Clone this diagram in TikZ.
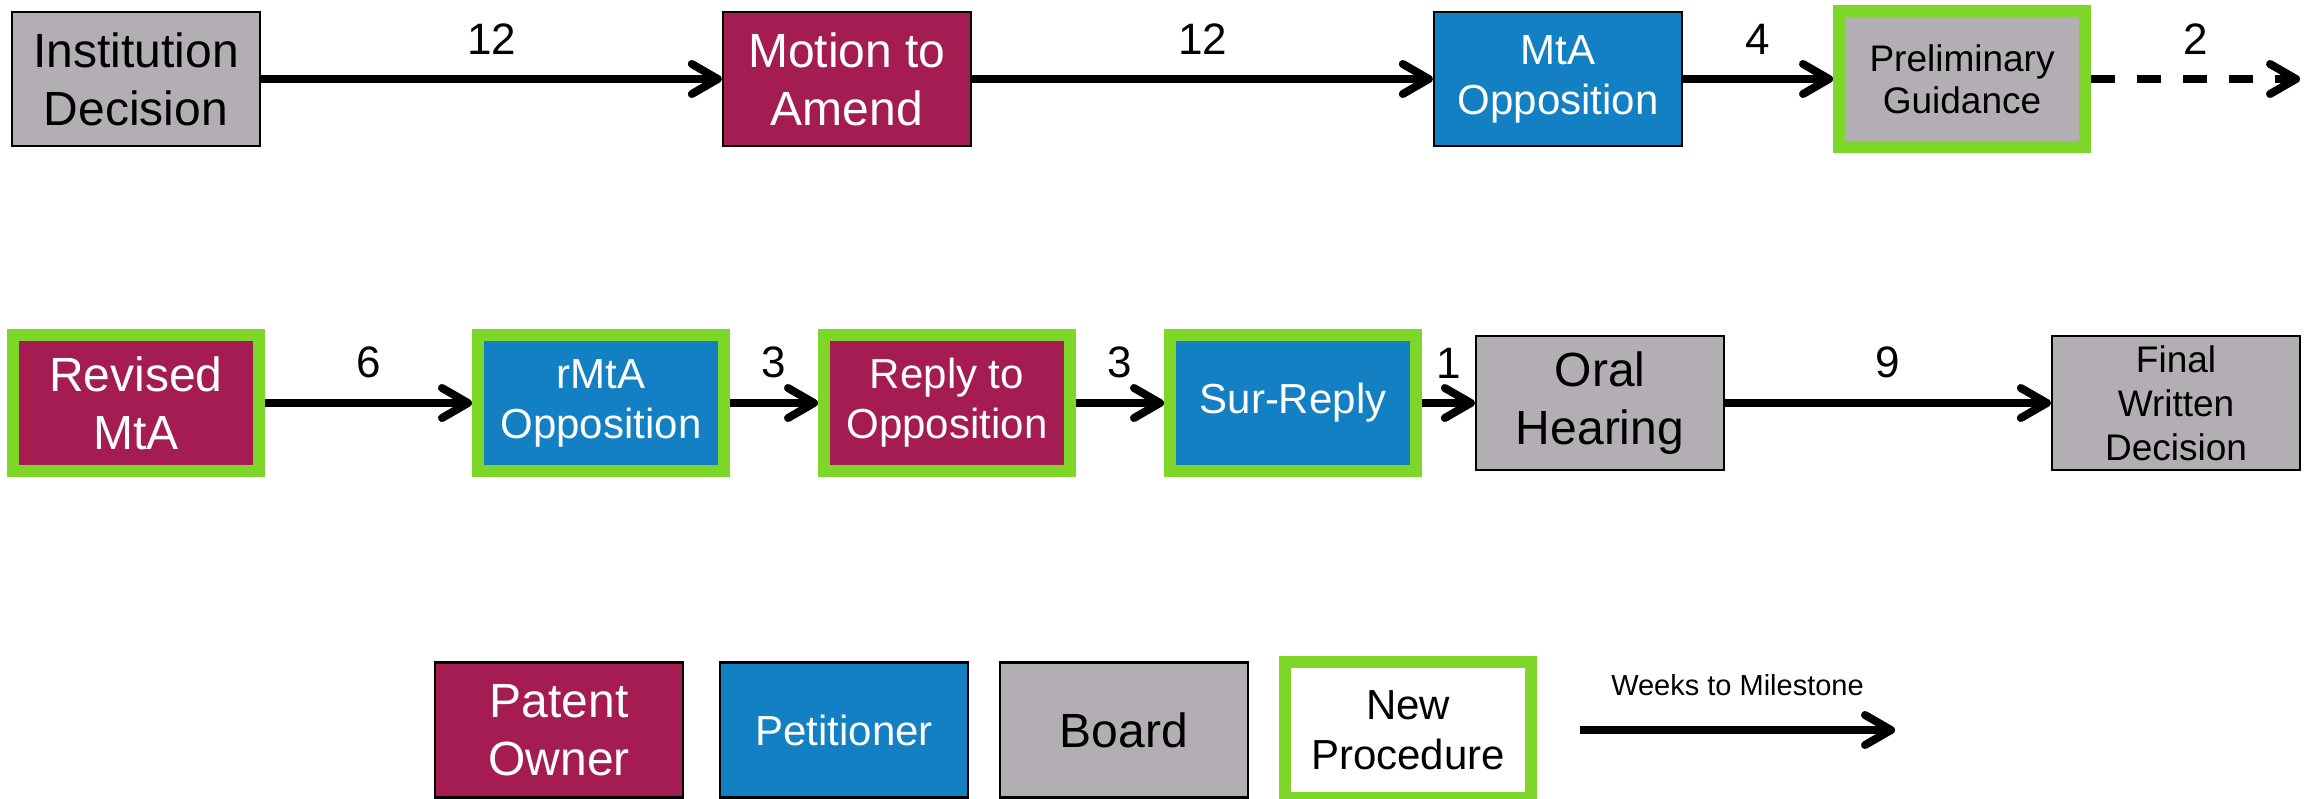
\documentclass[tikz,border=0pt]{standalone}
\usepackage{fontspec}
\setmainfont{Liberation Sans}
\usetikzlibrary{arrows.meta}
\definecolor{pgray}{HTML}{B3AEB4}
\definecolor{pmaroon}{HTML}{A51C52}
\definecolor{pblue}{HTML}{1280C3}
\definecolor{pgreen}{HTML}{7ED628}
\begin{document}
\begin{tikzpicture}[x=0.5pt,y=-0.5pt,
  box/.style={rectangle, inner sep=0pt, minimum width=124pt, minimum height=67pt, align=center, draw=black, line width=1.2pt},
  newbox/.style={rectangle, inner sep=0pt, minimum width=123pt, minimum height=68pt, align=center, draw=pgreen, line width=6pt},
  board/.style={fill=pgray, text=black},
  owner/.style={fill=pmaroon, text=white},
  petit/.style={fill=pblue, text=white},
  fbig/.style={font=\fontsize{24}{29}\selectfont},
  fmid/.style={font=\fontsize{21}{25}\selectfont},
  fsmall/.style={font=\fontsize{18.5}{22}\selectfont},
  flow/.style={line width=4pt, -{Straight Barb[length=13pt,width=15pt,round]}},
  lbl/.style={midway, above=10.5pt, inner sep=0pt, font=\fontsize{22}{26}\selectfont},
]
\useasboundingbox (0,0) rectangle (2316,798);

% Row 1
\node[box, board, fbig] (inst) at (136,79) {Institution\\Decision};
\node[box, owner, fbig] (mta) at (847,79) {Motion to\\Amend};
\node[box, petit, fmid] (opp) at (1558,79) {MtA\\Opposition};
\node[newbox, board, font=\fontsize{18.5}{21}\selectfont] (prel) at (1962,79) {Preliminary\\Guidance};
\coordinate (dend) at (2300,79);

\draw[flow] (inst) -- node[lbl]{12} (mta);
\draw[flow] (mta) -- node[lbl]{12} (opp);
\draw[flow] (opp) -- node[lbl]{4} (prel);
\draw[flow, dash pattern=on 12pt off 11pt] (prel) -- node[lbl]{2} (dend);

% Row 2
\node[newbox, owner, fbig] (rev) at (136,403) {Revised\\MtA};
\node[newbox, petit, fmid] (ropp) at (601,403) {rMtA\\Opposition};
\node[newbox, owner, fmid] (rep) at (947,403) {Reply to\\Opposition};
\node[newbox, petit, fmid] (sur) at (1293,403) {Sur-Reply};
\node[box, board, fbig] (oral) at (1600,403) {Oral\\Hearing};
\node[box, board, fsmall] (fwd) at (2176,403) {Final\\Written\\Decision};

\draw[flow] (rev) -- node[lbl]{6} (ropp);
\draw[flow] (ropp) -- node[lbl]{3} (rep);
\draw[flow] (rep) -- node[lbl]{3} (sur);
\draw[flow] (sur) -- node[lbl]{1} (oral);
\draw[flow] (oral) -- node[lbl]{9} (fwd);

% Legend
\node[box, owner, fbig, minimum height=67.5pt] (lpo) at (559,730) {Patent\\Owner};
\node[box, petit, fmid, minimum height=67.5pt] (lpe) at (844,730) {Petitioner};
\node[box, board, fbig, minimum height=67.5pt] (lbo) at (1124,730) {Board};
\node[newbox, fill=white, fmid, minimum height=68pt] (lnp) at (1408,730) {New\\Procedure};
\coordinate (la) at (1580,730);
\coordinate (lb) at (1895,730);
\draw[flow] (la) -- node[midway, above=15pt, inner sep=0pt, font=\fontsize{14.5}{17}\selectfont] (lwt) {Weeks to Milestone} (lb);
\end{tikzpicture}
\end{document}
